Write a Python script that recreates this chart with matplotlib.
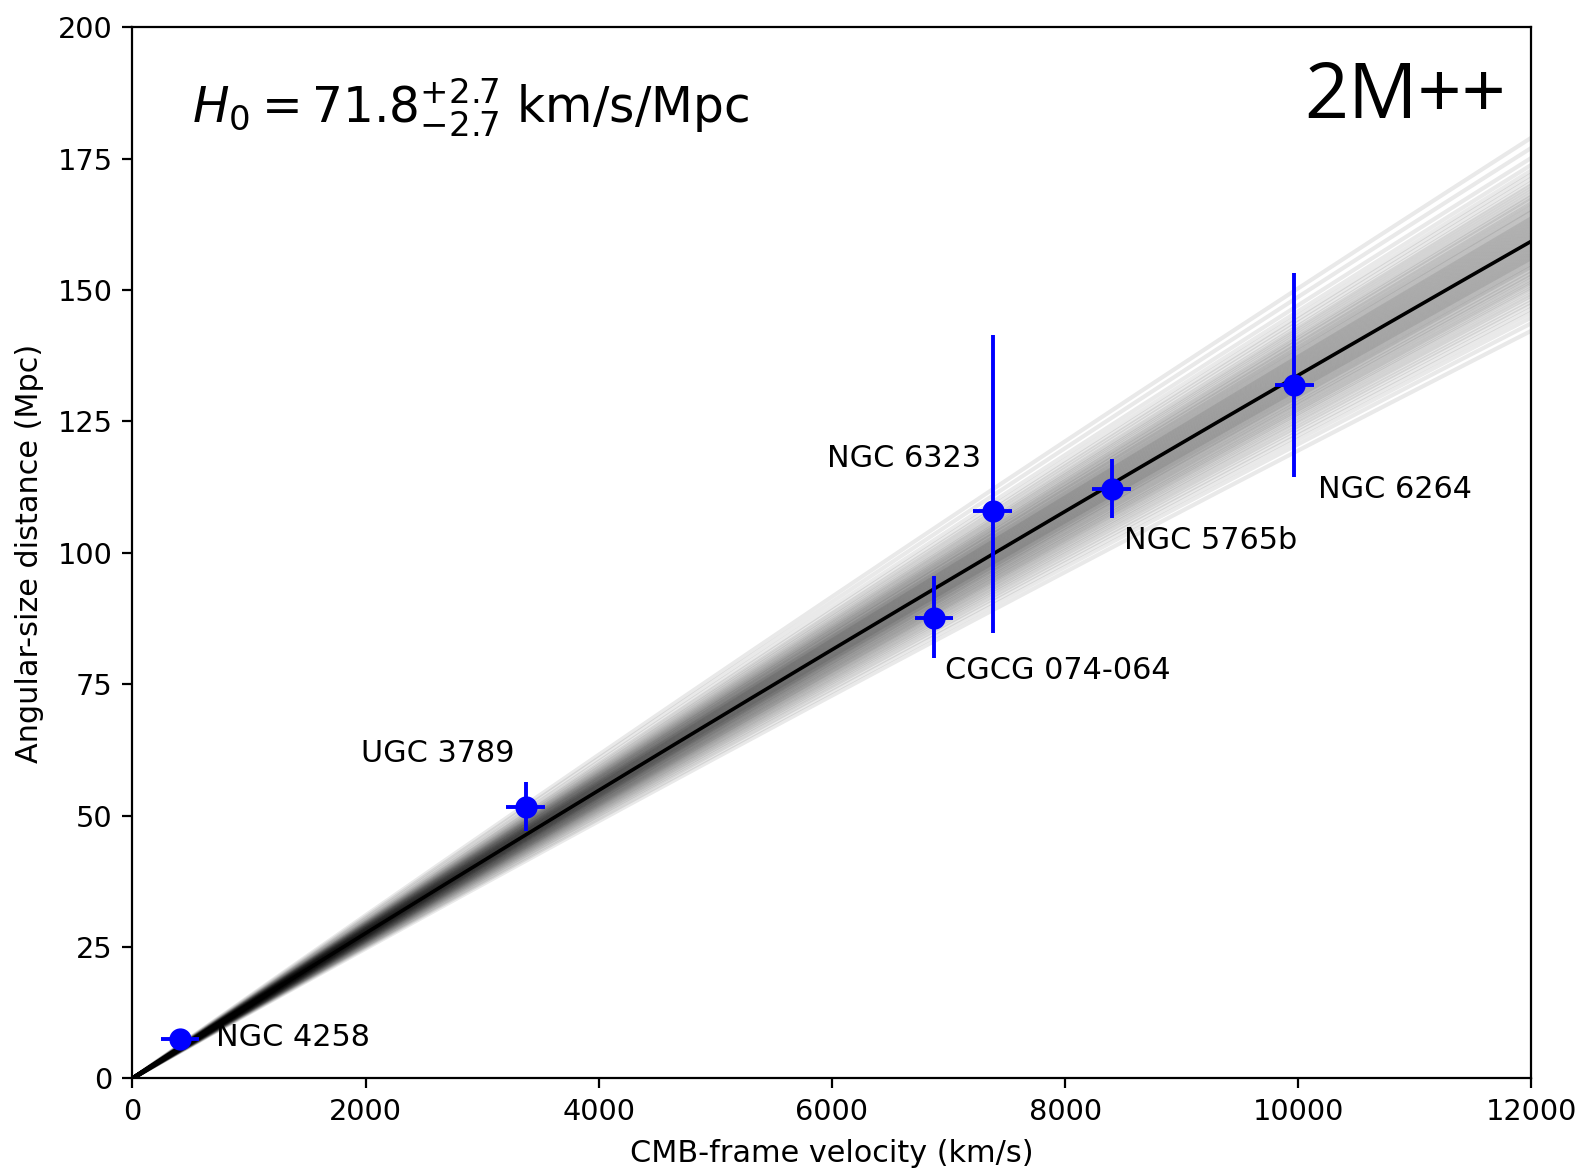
import numpy as np
import matplotlib
matplotlib.use("Agg")
import matplotlib.pyplot as plt

# Megamaser galaxies: CMB-frame velocity and angular-size distance
galaxies = ["NGC 4258", "UGC 3789", "CGCG 074-064", "NGC 6323", "NGC 5765b", "NGC 6264"]
velocity = [407, 3373, 6876, 7379, 8400, 9967]           # km/s
velocity_err = [165, 165, 167, 167, 167, 167]            # km/s
distance = [7.6, 51.7, 87.6, 108.0, 112.2, 131.9]        # Mpc
distance_err_lo = [0.2, 4.6, 7.6, 23.2, 5.6, 17.4]       # Mpc
distance_err_hi = [0.2, 4.8, 8.0, 33.5, 5.7, 21.4]       # Mpc

# Label anchor positions (left edge, vertical centre) in data units
label_x = [720, 1960, 6971, 5957, 8506, 10171]
label_y = [7.8, 61.8, 77.7, 117.9, 102.3, 112.1]

# Best-fit Hubble constant and posterior samples
H0_best = 71.8
H0_err = 2.7
H0_samples = [
    63.9, 64.6, 65.3, 65.8, 66.2, 66.5, 66.8, 67.1, 67.3, 67.5,
    67.7, 67.9, 68.1, 68.2, 68.4, 68.5, 68.7, 68.8, 68.9, 69.1,
    69.2, 69.3, 69.4, 69.6, 69.7, 69.8, 69.9, 70.0, 70.1, 70.2,
    70.3, 70.4, 70.5, 70.6, 70.7, 70.8, 70.9, 71.0, 71.1, 71.2,
    71.3, 71.4, 71.5, 71.6, 71.7, 71.8, 71.9, 72.0, 72.1, 72.2,
    72.3, 72.4, 72.5, 72.6, 72.7, 72.8, 72.9, 73.0, 73.1, 73.2,
    73.3, 73.4, 73.5, 73.6, 73.8, 73.9, 74.0, 74.1, 74.3, 74.4,
    74.6, 74.7, 74.9, 75.0, 75.2, 75.4, 75.5, 75.7, 75.9, 76.1,
    76.3, 76.6, 76.8, 77.1, 77.4, 77.7, 78.1, 78.5, 79.0, 79.6,
    80.4,
]

C_KMS = 299792.458
Q0 = -0.55

x_ticks = [0, 2000, 4000, 6000, 8000, 10000, 12000]
y_ticks = [0, 25, 50, 75, 100, 125, 150, 175, 200]


def angular_distance(v, h0):
    z = v / C_KMS
    return (v / h0) * (1 + 0.5 * (1 - Q0) * z) / (1 + z) ** 2


fig = plt.figure(figsize=(15.85, 11.71), dpi=100)
ax = fig.add_axes([0.0835, 0.0790, 0.9662 - 0.0835, 0.9767 - 0.0790])

v_grid = np.linspace(0, 12000, 200)
for h in H0_samples:
    ax.plot(v_grid, angular_distance(v_grid, h), color="black",
            alpha=0.085, lw=3.0, zorder=1, solid_capstyle="butt")
ax.plot(v_grid, angular_distance(v_grid, H0_best), color="black", lw=2.6, zorder=2)

ax.errorbar(velocity, distance,
            xerr=velocity_err, yerr=[distance_err_lo, distance_err_hi],
            fmt="o", color="#0000ff", ms=15, elinewidth=2.8, capsize=0, zorder=3)

for name, lx, ly in zip(galaxies, label_x, label_y):
    ax.text(lx, ly, name, ha="left", va="center", fontsize=21.8, color="black", zorder=4)

ax.text(512, 181.7,
        r"$H_0 = %.1f^{+%.1f}_{-%.1f}$ km/s/Mpc" % (H0_best, H0_err, H0_err),
        ha="left", va="baseline", fontsize=35)
ax.text(10049, 182.7, "2M++", ha="left", va="baseline", fontsize=55.5,
        family=["Open Sans", "DejaVu Sans"])

ax.set_xlim(0, 12000)
ax.set_ylim(0, 200)
ax.set_xticks(x_ticks)
ax.set_yticks(y_ticks)
ax.tick_params(labelsize=20.7, length=7.2, width=1.6, pad=7.0)
for s in ax.spines.values():
    s.set_linewidth(1.6)
ax.set_xlabel("CMB-frame velocity (km/s)", fontsize=21.8, labelpad=9)
ax.set_ylabel("Angular-size distance (Mpc)", fontsize=21.8, labelpad=10)

fig.savefig("out.png", dpi=100)
